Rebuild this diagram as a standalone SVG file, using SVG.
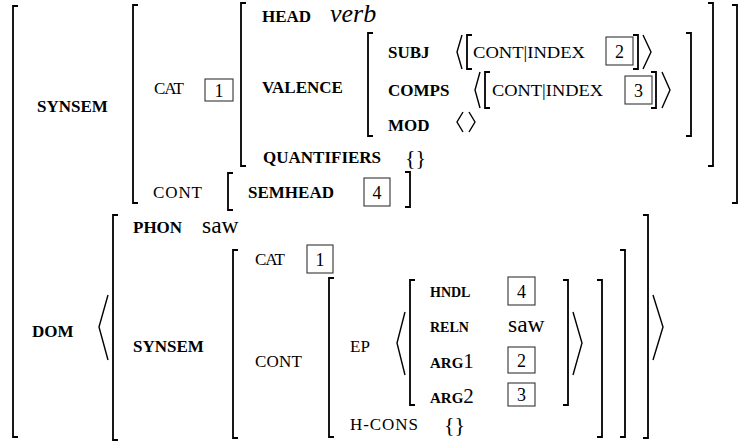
<svg xmlns="http://www.w3.org/2000/svg" width="753" height="442" viewBox="0 0 753 442">
<defs>
<style>
.t text{fill:#000}
.b{font-weight:bold;font-size:17px}
.r{font-size:17px}
.s{font-weight:bold;font-size:14px}
.a{font-weight:bold;font-size:15px}
.d{font-size:18px;text-anchor:middle}
.big{font-size:23.5px}
.it{font-style:italic;font-size:26px}
.br{fill:none;stroke:#000;stroke-width:1.8}
.ang{fill:none;stroke:#000;stroke-width:1.4}
.box{fill:none;stroke:#333;stroke-width:1.1}
</style>
</defs>
<rect width="753" height="442" fill="#fff"/>
<g id="brackets">
<path class="br" d="M18,6H13V437H18"/>
<path class="br" d="M138,5H133V203H138"/>
<path class="br" d="M732,5H737V203H732"/>
<path class="br" d="M246,3H241V166H246"/>
<path class="br" d="M708,3H713V166H708"/>
<path class="br" d="M373,33H368V136H373"/>
<path class="br" d="M686,33H691V136H686"/>
<path class="br" d="M472,35H467V69H472"/>
<path class="br" d="M633,35H638V69H633"/>
<path class="br" d="M490,72H485V108H490"/>
<path class="br" d="M651,72H656V108H651"/>
<path class="br" d="M233,173H228V210H233"/>
<path class="br" d="M405,172H410V207H405"/>
<path class="br" d="M118,215H113V440H118"/>
<path class="br" d="M643,215H648V438H643"/>
<path class="br" d="M238,250H233V438H238"/>
<path class="br" d="M620,250H625V437H620"/>
<path class="br" d="M334,278H329V437H334"/>
<path class="br" d="M597,280H602V437H597"/>
<path class="br" d="M415,280H410V405H415"/>
<path class="br" d="M563,280H568V405H563"/>
<polyline class="ang" points="462,35 457,52 462,69"/>
<polyline class="ang" points="643,35 651,52 643,69"/>
<polyline class="ang" points="480,72 475,90 480,108"/>
<polyline class="ang" points="662,72 670,90 662,108"/>
<polyline class="ang" points="463,112 457,122 463,132"/>
<polyline class="ang" points="469,112 475,122 469,132"/>
<polyline class="ang" points="108,295 99,327 108,360"/>
<polyline class="ang" points="653,295 663,327 653,360"/>
<polyline class="ang" points="405,312 397,343 405,375"/>
<polyline class="ang" points="573,312 582,343 573,375"/>
</g>
<g id="synsem-top" class="t" font-family="Liberation Serif, DejaVu Serif, serif">
<text class="b" x="37" y="112">SYNSEM</text>
<text class="r" x="154" y="94" textLength="30">CAT</text>
<rect class="box" x="205" y="79" width="28" height="22"/>
<text class="d" x="219" y="96.5">1</text>
<text class="b" x="262" y="22">HEAD</text>
<text class="it" x="330" y="22">verb</text>
<text class="b" x="262" y="93">VALENCE</text>
<text class="b" x="388" y="58">SUBJ</text>
<text class="r" x="473" y="58" textLength="112" lengthAdjust="spacingAndGlyphs">CONT|INDEX</text>
<rect class="box" x="606" y="37" width="27" height="28"/>
<text class="d" x="619.5" y="57.5">2</text>
<text class="b" x="388" y="96">COMPS</text>
<text class="r" x="492" y="96" textLength="111" lengthAdjust="spacingAndGlyphs">CONT|INDEX</text>
<rect class="box" x="625" y="76" width="27" height="28"/>
<text class="d" x="638.5" y="96.5">3</text>
<text class="b" x="388" y="131">MOD</text>
<text class="b" x="263" y="163">QUANTIFIERS</text>
<text x="405" y="165" font-size="22">{}</text>
<text class="r" x="153" y="198" textLength="49">CONT</text>
<text class="b" x="248" y="198">SEMHEAD</text>
<rect class="box" x="364" y="178" width="26" height="28"/>
<text class="d" x="377" y="198.5">4</text>
</g>
<g id="dom" class="t" font-family="Liberation Serif, DejaVu Serif, serif">
<text class="b" x="32" y="337">DOM</text>
<text class="b" x="133" y="233">PHON</text>
<text class="big" x="202" y="233">saw</text>
<text class="b" x="133" y="352">SYNSEM</text>
<text class="r" x="255" y="265" textLength="30">CAT</text>
<rect class="box" x="307" y="245" width="26" height="28"/>
<text class="d" x="320" y="265.5">1</text>
<text class="r" x="255" y="367" textLength="47">CONT</text>
<text class="r" x="350" y="352" textLength="20">EP</text>
<text class="s" x="430" y="297">HNDL</text>
<rect class="box" x="508" y="277" width="27" height="28"/>
<text class="d" x="521.5" y="297.5">4</text>
<text class="s" x="430" y="332">RELN</text>
<text class="big" x="508" y="332">saw</text>
<text x="430" y="368"><tspan class="a">ARG</tspan><tspan font-size="21">1</tspan></text>
<rect class="box" x="508" y="347" width="27" height="26"/>
<text class="d" x="521.5" y="366.5">2</text>
<text x="430" y="403"><tspan class="a">ARG</tspan><tspan font-size="21">2</tspan></text>
<rect class="box" x="508" y="383" width="27" height="23"/>
<text class="d" x="521.5" y="400.5">3</text>
<text class="r" x="350" y="430" textLength="68">H-CONS</text>
<text x="444" y="432" font-size="22">{}</text>
</g>
</svg>
